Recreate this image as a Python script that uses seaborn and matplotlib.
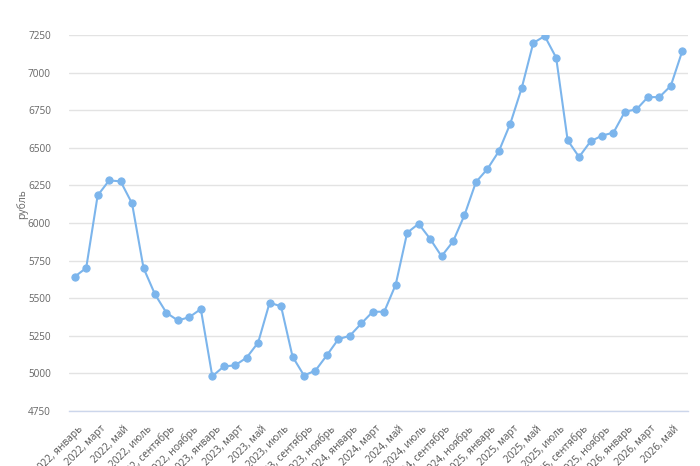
import matplotlib
matplotlib.use("Agg")
import matplotlib.pyplot as plt
import matplotlib.transforms as mtransforms
import seaborn as sns
import pandas as pd
import numpy as np

months_ru = ["январь", "февраль", "март", "апрель", "май", "июнь",
             "июль", "август", "сентябрь", "октябрь", "ноябрь", "декабрь"]
years = [2022, 2023, 2024, 2025, 2026]
n_points = 54
categories = [f"{years[i // 12]}, {months_ru[i % 12]}" for i in range(n_points)]

values = [5643, 5701, 6183, 6283, 6277, 6130, 5701, 5526, 5403, 5352, 5374, 5428,
          4981, 5046, 5054, 5105, 5205, 5470, 5446, 5112, 4986, 5019, 5121, 5228,
          5250, 5332, 5410, 5410, 5590, 5935, 5995, 5895, 5779, 5877, 6052, 6272,
          6359, 6477, 6661, 6899, 7197, 7243, 7099, 6550, 6439, 6543, 6581, 6601,
          6741, 6755, 6837, 6837, 6912, 7143]

y_ticks = [4750, 5000, 5250, 5500, 5750, 6000, 6250, 6500, 6750, 7000, 7250]

df = pd.DataFrame({"idx": np.arange(len(values)), "label": categories, "value": values})

sns.set_style("white")
plt.rcParams['font.family'] = ['Open Sans', 'DejaVu Sans']

fig = plt.figure(figsize=(7, 4.66), dpi=100)
ax = fig.add_axes([69/700, 1 - 411/466, 619/700, 376/466])

color = "#7cb5ec"
sns.lineplot(data=df, x="idx", y="value", ax=ax, color=color, linewidth=1.5,
             marker="o", markersize=5.2, markeredgecolor=color, markerfacecolor=color, zorder=3)

ax.set_xlim(-0.5, len(values) - 0.5)
ax.set_ylim(4750, 7250)
ax.set_yticks(y_ticks)
ax.set_yticklabels([str(t) for t in y_ticks], fontsize=7.2, color="#666666")
ax.grid(axis="y", color="#e3e3e3", linewidth=1)
ax.set_axisbelow(True)

xt = list(range(0, len(values), 2))
ax.set_xticks(xt)
ax.set_xticklabels([categories[i] for i in xt], rotation=45, ha="right",
                   rotation_mode="anchor", fontsize=7.3, color="#555555")
ax.tick_params(axis="x", length=5, color="#ccd6eb", width=1, pad=4)
ax.tick_params(axis="y", length=0, pad=13)
offset = mtransforms.ScaledTranslation(3/100, 0, fig.dpi_scale_trans)
for lbl in ax.get_xticklabels():
    lbl.set_transform(lbl.get_transform() + offset)

for s in ["top", "right", "left"]:
    ax.spines[s].set_visible(False)
ax.spines["bottom"].set_color("#ccd6eb")
ax.spines["bottom"].set_linewidth(1)

ax.set_xlabel("")
ax.set_ylabel("рубль", fontsize=7.5, color="#666666")
ax.yaxis.set_label_coords(-0.066, 0.55)

fig.savefig("out.png", dpi=100)
